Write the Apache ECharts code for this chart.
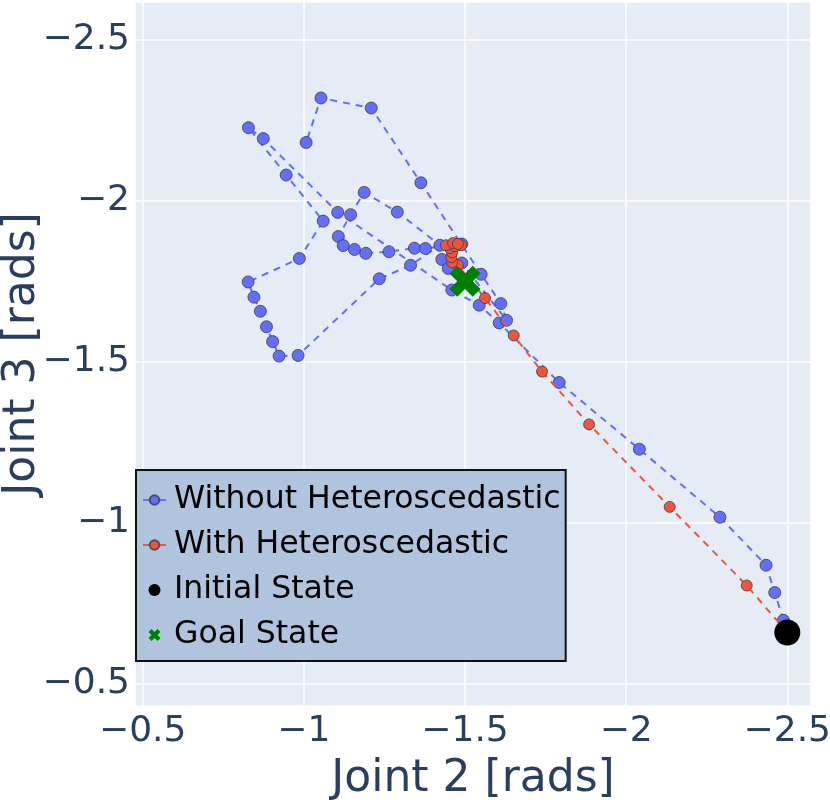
<!DOCTYPE html>
<html>
<head>
<meta charset="utf-8">
<script src="https://cdn.jsdelivr.net/npm/echarts@6/dist/echarts.min.js"></script>
<style>
    html, body { margin: 0; padding: 0; background: #fff; }
    #chart { width: 830px; height: 804px; }
</style>
</head>
<body>
<div id="chart"></div>
<script>
// trajectory without heteroscedastic noise model
var blueX = [-2.50, -2.488, -2.461, -2.434, -2.291, -2.041, -1.792, -1.606, -1.544, -1.459,
    -1.105, -0.874, -0.828, -0.945, -1.060, -0.986, -0.827, -0.845, -0.865, -0.884,
    -0.903, -0.923, -0.982, -1.234, -1.331, -1.422, -1.290, -1.187, -1.145, -1.107,
    -1.122, -1.157, -1.192, -1.264, -1.343, -1.377, -1.490, -1.428, -1.448, -1.490,
    -1.629, -1.611, -1.550, -1.363, -1.209, -1.053, -1.007];
var blueY = [-0.66, -0.698, -0.784, -0.869, -1.018, -1.229, -1.436, -1.621, -1.676, -1.723,
    -1.964, -2.193, -2.227, -2.080, -1.937, -1.821, -1.748, -1.701, -1.657, -1.609,
    -1.563, -1.518, -1.520, -1.758, -1.800, -1.862, -1.965, -2.026, -1.957, -1.889,
    -1.861, -1.849, -1.837, -1.842, -1.853, -1.852, -1.866, -1.818, -1.790, -1.807,
    -1.629, -1.681, -1.772, -2.056, -2.288, -2.319, -2.181];

// trajectory with heteroscedastic noise model
var redX = [-2.50, -2.374, -2.135, -1.885, -1.739, -1.651, -1.562, -1.478, -1.460, -1.457,
    -1.460, -1.453, -1.469, -1.488, -1.441, -1.463, -1.478];
var redY = [-0.66, -0.806, -1.050, -1.306, -1.470, -1.582, -1.698, -1.800, -1.809, -1.825,
    -1.840, -1.853, -1.859, -1.862, -1.862, -1.869, -1.866];

var initialState = [-2.5, -0.66];
var goalState = [-1.5, -1.75];

function pairs(xs, ys) {
    var out = [];
    for (var i = 0; i < xs.length; i++) {
        out.push([xs[i], ys[i]]);
    }
    return out;
}

var font = 'DejaVu Sans';
var tickColor = '#2a3f5f';
var xShape = 'path://M0,2.5 L2.5,0 L5,2.5 L7.5,0 L10,2.5 L7.5,5 L10,7.5 L7.5,10 L5,7.5 L2.5,10 L0,7.5 L2.5,5 Z';

function minusLabel(v) {
    return String(v).replace('-', '\u2212');
}

var chart = echarts.init(document.getElementById('chart'));
var option = {
    animation: false,
    grid: {
        left: 135,
        right: 19,
        top: 2,
        bottom: 98,
        outerBoundsMode: 'none',
        containLabel: false,
        show: true,
        backgroundColor: '#E5ECF6',
        borderWidth: 0
    },
    legend: {
        orient: 'vertical',
        left: 136,
        top: 470,
        padding: [14, 5, 10, 6],
        itemGap: 13,
        itemWidth: 23,
        itemHeight: 12,
        backgroundColor: '#b0c4de',
        borderColor: '#111',
        borderWidth: 2,
        borderRadius: 0,
        lineStyle: { type: 'solid' },
        textStyle: { fontFamily: font, fontSize: 31.5, color: '#000', padding: [0, 0, 0, 3] },
        data: ['Without Heteroscedastic', 'With Heteroscedastic', 'Initial State', 'Goal State']
    },
    xAxis: {
        type: 'value',
        inverse: true,
        min: -2.5735,
        max: -0.476,
        splitNumber: 4,
        name: 'Joint 2 [rads]',
        nameLocation: 'middle',
        nameGap: 52,
        nameMoveOverlap: false,
        nameTextStyle: { fontFamily: font, fontSize: 44, color: tickColor },
        axisLine: { show: false },
        axisTick: { show: false },
        splitLine: { show: true, lineStyle: { color: '#fff', width: 1.5 } },
        axisLabel: {
            fontFamily: font,
            fontSize: 36,
            color: tickColor,
            margin: 8,
            showMinLabel: false,
            showMaxLabel: false,
            formatter: minusLabel
        }
    },
    yAxis: {
        type: 'value',
        inverse: true,
        min: -2.617,
        max: -0.432,
        splitNumber: 4,
        name: 'Joint 3 [rads]',
        nameLocation: 'middle',
        nameGap: 90,
        nameMoveOverlap: false,
        nameTextStyle: { fontFamily: font, fontSize: 44, color: tickColor },
        axisLine: { show: false },
        axisTick: { show: false },
        splitLine: { show: true, lineStyle: { color: '#fff', width: 1.5 } },
        axisLabel: {
            fontFamily: font,
            fontSize: 36,
            color: tickColor,
            margin: 5,
            showMinLabel: false,
            showMaxLabel: false,
            formatter: minusLabel
        }
    },
    series: [
        {
            name: 'Without Heteroscedastic',
            type: 'line',
            data: pairs(blueX, blueY),
            symbol: 'circle',
            symbolSize: 12,
            showAllSymbol: true,
            z: 2,
            lineStyle: { color: '#636efa', width: 2, type: [7, 6] },
            itemStyle: { color: '#636efa', borderColor: 'rgba(60,60,80,0.8)', borderWidth: 1, opacity: 1 },
            emphasis: { disabled: true }
        },
        {
            name: 'With Heteroscedastic',
            type: 'line',
            data: pairs(redX, redY),
            symbol: 'circle',
            symbolSize: 11,
            showAllSymbol: true,
            z: 3,
            lineStyle: { color: '#EF553B', width: 2, type: [7, 6] },
            itemStyle: { color: '#EF553B', borderColor: 'rgba(60,60,80,0.8)', borderWidth: 1, opacity: 1 },
            emphasis: { disabled: true }
        },
        {
            name: 'Initial State',
            type: 'scatter',
            data: [initialState],
            symbol: 'circle',
            symbolSize: 26,
            z: 4,
            itemStyle: { color: '#000', opacity: 1 },
            emphasis: { disabled: true }
        },
        {
            name: 'Goal State',
            type: 'scatter',
            data: [goalState],
            symbol: xShape,
            symbolSize: 31,
            symbolKeepAspect: true,
            z: 5,
            itemStyle: { color: '#008000', opacity: 1 },
            emphasis: { disabled: true }
        }
    ]
};
chart.setOption(option);
window.addEventListener('resize', function () {
    chart.resize();
});
</script>
</body>
</html>
